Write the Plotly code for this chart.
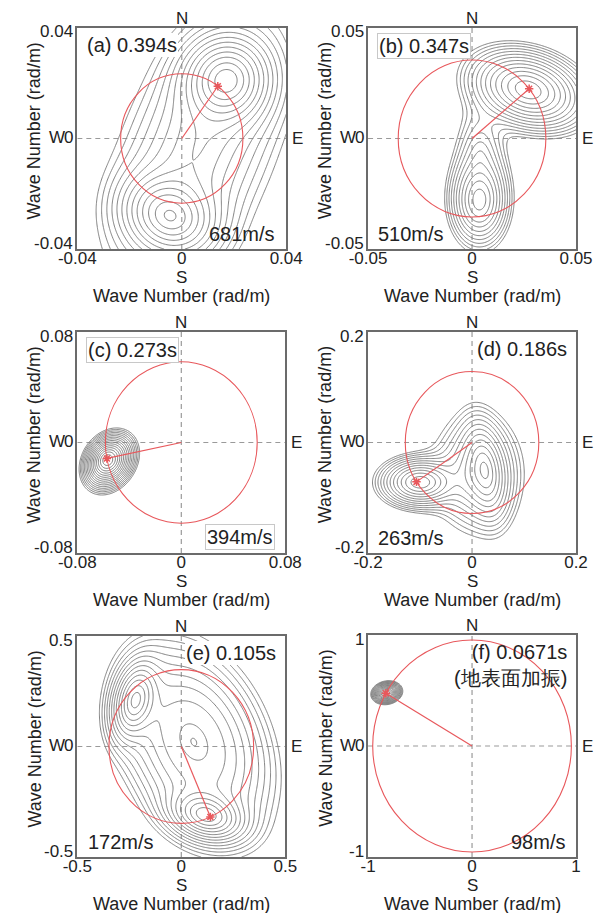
import numpy as np
import plotly.graph_objects as go

W, H = 609, 913

# ---- data -------------------------------------------------------------
panel_tags = ["(a)", "(b)", "(c)", "(d)", "(e)", "(f)"]
periods_s = [0.394, 0.347, 0.273, 0.186, 0.105, 0.0671]
velocities_ms = [681, 510, 394, 263, 172, 98]
peak_azimuth_deg = [36.1, 50.7, 258.6, 236.3, 156.3, 299.8]   # clockwise from N
axis_limits = [0.04, 0.05, 0.08, 0.2, 0.5, 1.0]
tick_labels = [
    ["-0.04", "0", "0.04"],
    ["-0.05", "0", "0.05"],
    ["-0.08", "0", "0.08"],
    ["-0.2", "0", "0.2"],
    ["-0.5", "0", "0.5"],
    ["-1", "0", "1"],
]
notes = ["", "", "", "", "", "(地表面加振)"]

# spectral lobes: (kx, ky, semi-axis a, semi-axis b, tilt of a [deg], relative power, hollow)
lobes_a = [(0.017, 0.021, 0.009, 0.0085, 20, 1.0, 0),
           (-0.0045, -0.028, 0.008, 0.010, 70, 0.8, 0),
           (0.0063, -0.0035, 0.036, 0.018, 66, 0.18, 0)]
lobes_b = [(0.027, 0.022, 0.0140, 0.0085, -15, 1.0, 0),
           (0.0035, -0.028, 0.0075, 0.011, 0, 0.5, 0),
           (0.004, -0.008, 0.008, 0.016, 0, 0.10, 0)]
lobes_c = [(-0.0575, -0.0120, 0.0080, 0.0065, 50, 0.6, 0),
           (-0.0550, -0.0140, 0.0118, 0.0090, 50, 0.5, 0)]
lobes_d = [(-0.100, -0.072, 0.039, 0.023, 0, 1.0, 0),
           (0.025, -0.050, 0.050, 0.022, 100, 0.6, 0),
           (0.010, -0.055, 0.050, 0.062, 0, 0.3, 0)]
lobes_e = [(0.12, -0.31, 0.10, 0.060, -15, 1.0, 0),
           (-0.22, 0.21, 0.10, 0.058, 75, 0.9, 0),
           (0.06, 0.02, 0.22, 0.150, -62, 0.28, 0.65)]
lobes_f = [(-0.82, 0.48, 0.064, 0.044, 10, 1.0, 0)]
spectra = [lobes_a, lobes_b, lobes_c, lobes_d, lobes_e, lobes_f]

# contour settings per panel: log-power step and number of levels
level_steps = [0.30, 0.30, 0.25, 0.30, 0.30, 0.25]
level_counts = [13, 13, 16, 12, 13, 15]
SHAPE_P = 1.5

# ---- layout geometry (pixels) -----------------------------------------
boxes = [(62, 28, 284, 249), (371, 28, 592, 249),
         (62, 332, 283, 553), (371, 332, 592, 553),
         (62, 636, 283, 857), (371, 635, 592, 857)]
time_corner = ["tl", "tl", "tl", "tr", "tr", "tr"]
vel_corner = ["br", "bl", "br", "bl", "bl", "br"]
time_boxed = [False, True, True, False, False, False]
vel_boxed = [False, False, True, False, False, False]
time_bg = [True, True, True, False, True, False]

RED = "#e8585c"
GRAY_LINE = "#7d7d7d"
FRAME = "#6b6b6b"
TXT = "#222222"
FONT = "Liberation Sans, Arial, sans-serif"


def fx(p):
    return p / W


def fy(p):
    return 1 - p / H


def power_map(X, Y, lobes):
    total = np.zeros_like(X)
    for cx, cy, a, b, tilt, amp, hollow in lobes:
        t = np.deg2rad(tilt)
        u = (X - cx) * np.cos(t) + (Y - cy) * np.sin(t)
        v = -(X - cx) * np.sin(t) + (Y - cy) * np.cos(t)
        d = np.sqrt((u / a) ** 2 + (v / b) ** 2)
        total += amp * np.exp(-np.abs(d - hollow) ** SHAPE_P)
    return np.log(np.clip(total, 1e-30, None))


fig = go.Figure()
shapes, annotations = [], []

for i in range(6):
    n = i + 1
    xa, ya = f"x{n}", f"y{n}"
    R = axis_limits[i]
    x0, y0, x1, y1 = boxes[i]

    # f-k power spectrum contours
    g = np.linspace(-R, R, 241)
    X, Y = np.meshgrid(g, g)
    Z = power_map(X, Y, spectra[i])
    zmax = float(Z.max())
    step = level_steps[i]
    fig.add_trace(go.Contour(
        x=g, y=g, z=Z, xaxis=xa, yaxis=ya,
        contours=dict(coloring="lines", start=zmax - step * level_counts[i],
                      end=zmax - 0.3 * step, size=step, showlabels=False),
        line=dict(width=1, smoothing=1),
        colorscale=[[0, GRAY_LINE], [1, GRAY_LINE]],
        showscale=False, hoverinfo="skip",
    ))

    # apparent velocity circle and peak direction
    k = 2 * np.pi / (periods_s[i] * velocities_ms[i])
    az = np.deg2rad(peak_azimuth_deg[i])
    kx, ky = k * np.sin(az), k * np.cos(az)
    fig.add_trace(go.Scatter(x=[0, kx], y=[0, ky], xaxis=xa, yaxis=ya, mode="lines",
                             line=dict(color=RED, width=1.2), hoverinfo="skip",
                             showlegend=False))
    fig.add_trace(go.Scatter(x=[kx], y=[ky], xaxis=xa, yaxis=ya, mode="markers",
                             marker=dict(symbol="asterisk-open", size=7, color=RED,
                                         line=dict(color=RED, width=1.5)),
                             hoverinfo="skip", showlegend=False))

    # dashed N-S / E-W reference lines
    shapes.append(dict(type="line", xref=xa, yref=ya, x0=0, x1=0, y0=-R, y1=R,
                       line=dict(color="#9a9a9a", width=1.2, dash="5px,4px"), layer="below"))
    shapes.append(dict(type="line", xref=xa, yref=ya, x0=-R, x1=R, y0=0, y1=0,
                       line=dict(color="#9a9a9a", width=1.2, dash="5px,4px"), layer="below"))
    shapes.append(dict(type="circle", xref=xa, yref=ya, x0=-k, x1=k, y0=-k, y1=k,
                       line=dict(color=RED, width=1.1)))

    axis_common = dict(range=[-R, R], showline=True, mirror=True, linecolor=FRAME,
                       linewidth=2, ticks="", showgrid=False, zeroline=False,
                       fixedrange=True)
    fig.layout[f"xaxis{n}"] = dict(
        domain=[fx(x0), fx(x1)], anchor=ya, tickvals=[-R, 0, R], ticktext=tick_labels[i],
        ticklabelstandoff=-7, tickfont=dict(size=17, color=TXT, family=FONT), **axis_common)
    fig.layout[f"yaxis{n}"] = dict(domain=[fy(y1), fy(y0)], anchor=xa,
                                   showticklabels=False, **axis_common)

    cxp = (x0 + x1) / 2
    cyp = (y0 + y1) / 2
    big = dict(family=FONT, size=17, color=TXT)

    # vertical-axis tick labels (kept inside the frame height)
    for lbl, ypix in zip(tick_labels[i], [y1 - 6, cyp - 1, y0 + 4]):
        annotations.append(dict(text=lbl, x=fx(x0 - 2), y=fy(ypix), xanchor="right",
                                yanchor="middle", font=big))

    # compass letters
    annotations += [
        dict(text="N", x=fx(cxp), y=fy(y0 - 10), xanchor="center", yanchor="middle", font=big),
        dict(text="S", x=fx(cxp), y=fy(y1 + 28), xanchor="center", yanchor="middle", font=big),
        dict(text="E", x=fx(x1 + 4), y=fy(cyp), xanchor="left", yanchor="middle", font=big),
        dict(text="W", x=fx(x0 - 11), y=fy(cyp - 1), xanchor="right", yanchor="middle", font=big),
    ]
    # axis titles
    annotations += [
        dict(text="Wave Number (rad/m)", x=fx(cxp), y=fy(y1 + 47), xanchor="center",
             yanchor="middle", font=dict(family=FONT, size=18, color=TXT)),
        dict(text="Wave Number (rad/m)", x=fx(x0 - 45), y=fy(cyp - 8), xanchor="center",
             yanchor="middle", textangle=-90, font=dict(family=FONT, size=18, color=TXT)),
    ]

    lab_font = dict(family=FONT, size=20, color=TXT)
    # period label
    tlabel = f"{panel_tags[i]} {periods_s[i]}s"
    if notes[i]:
        tlabel += "<br>" + notes[i]
    if time_corner[i] == "tl":
        tx, xa_ = x0 + 9, "left"
    else:
        tx, xa_ = x1 - 9, "right"
    annotations.append(dict(
        text=tlabel, x=fx(tx), y=fy(y0 + 5), xanchor=xa_, yanchor="top", align="right",
        font=lab_font, bgcolor="white" if time_bg[i] else None,
        bordercolor="#c8c8c8" if time_boxed[i] else None,
        borderwidth=1 if time_boxed[i] else 0, borderpad=1))
    # velocity label
    if vel_corner[i] == "br":
        vx, vxa = x1 - 11, "right"
    else:
        vx, vxa = x0 + 10, "left"
    annotations.append(dict(
        text=f"{velocities_ms[i]}m/s", x=fx(vx), y=fy(y1 - 3), xanchor=vxa,
        yanchor="bottom", font=lab_font,
        bgcolor="white" if vel_boxed[i] else None,
        bordercolor="#c8c8c8" if vel_boxed[i] else None,
        borderwidth=1 if vel_boxed[i] else 0, borderpad=1))

for a in annotations:
    a.update(xref="paper", yref="paper", showarrow=False)

fig.update_layout(
    width=W, height=H, margin=dict(l=0, r=0, t=0, b=0),
    paper_bgcolor="white", plot_bgcolor="white",
    showlegend=False, shapes=shapes, annotations=annotations,
    font=dict(family=FONT, color=TXT),
)

fig.write_html("out.html")
